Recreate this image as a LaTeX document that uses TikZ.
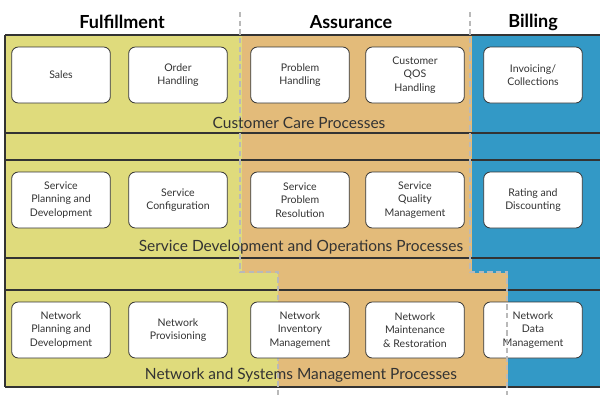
\documentclass[tikz,border=0pt]{standalone}
\usepackage{fontspec}
\setmainfont{Lato}
\definecolor{yel}{HTML}{DFDB7C}
\definecolor{tanc}{HTML}{E3BB7A}
\definecolor{blu}{HTML}{3399C6}
\definecolor{edge}{HTML}{333333}
\begin{document}
\begin{tikzpicture}[x=0.75pt,y=-0.75pt,
  procbox/.style={draw=edge, line width=0.6pt, fill=white, rounded corners=5pt,
    minimum width=74pt, minimum height=42pt, align=center, inner sep=1pt,
    font=\fontsize{7.9}{10}\selectfont, text=black!80},
  rowline/.style={draw=edge, line width=1.1pt},
  divider/.style={draw=gray!55, line width=0.8pt, dash pattern=on 4pt off 2.5pt},
  header/.style={font=\fontsize{13.5}{16}\selectfont\bfseries, text=black},
  rowlabel/.style={font=\fontsize{11.6}{13}\selectfont, text=black!80}]
\useasboundingbox (0,0) rectangle (600,400);
% column backgrounds
\fill[yel] (5,35) rectangle (242,273);
\fill[yel] (5,273) rectangle (278,387);
\fill[tanc] (242,35) rectangle (472,273);
\fill[tanc] (278,273) rectangle (508,387);
\fill[blu] (472,35) rectangle (600,273);
\fill[blu] (508,273) rectangle (600,387);
% row borders
\draw[rowline] (5,35) -- (600,35);
\draw[rowline] (5,133) -- (600,133);
\draw[rowline] (5,160) -- (600,160);
\draw[rowline] (5,258) -- (600,258);
\draw[rowline] (5,290) -- (600,290);
\draw[rowline] (5,387) -- (600,387);
\draw[rowline] (5,35) -- (5,387);
% column dividers
\draw[divider] (240,12) -- (240,272) -- (278,272) -- (278,395);
% headers
\node[header] (hf) at (122,22) {Fulfillment};
\node[header] (ha) at (351,22) {Assurance};
\node[header] (hb) at (533,22) {Billing};
% row 1
\node[procbox] (sales) at (61,75) {Sales};
\node[procbox] (order) at (178,75) {Order\\Handling};
\node[procbox] (prob) at (300,75) {Problem\\Handling};
\node[procbox] (qos) at (415,75) {Customer\\QOS\\Handling};
\node[procbox] (inv) at (533,75) {Invoicing/\\Collections};
\node[rowlabel] (l1) at (299,123) {Customer Care Processes};
% row 2
\node[procbox] (spd) at (61,200) {Service\\Planning and\\Development};
\node[procbox] (scfg) at (178,200) {Service\\Configuration};
\node[procbox] (spr) at (300,200) {Service\\Problem\\Resolution};
\node[procbox] (sqm) at (415,200) {Service\\Quality\\Management};
\node[procbox] (rat) at (533,200) {Rating and\\Discounting};
\node[rowlabel] (l2) at (301,247) {Service Development and Operations Processes};
% row 3
\node[procbox] (npd) at (61,330) {Network\\Planning and\\Development};
\node[procbox] (nprov) at (178,330) {Network\\Provisioning};
\node[procbox] (ninv) at (300,330) {Network\\Inventory\\Management};
\node[procbox] (nmr) at (415,330) {Network\\Maintenance\\\& Restoration};
\node[procbox] (ndm) at (533,330) {Network\\Data\\Management};
\node[rowlabel] (l3) at (301,375) {Network and Systems Management Processes};
% billing divider (drawn over the last box, as in the reference)
\draw[divider] (470,12) -- (470,272) -- (507,272) -- (507,395);
\end{tikzpicture}
\end{document}
